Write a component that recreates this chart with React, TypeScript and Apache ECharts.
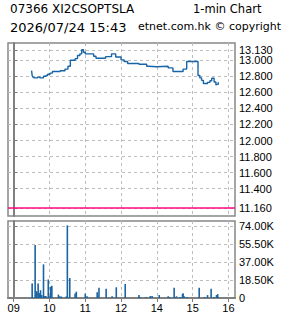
import React, { useEffect, useRef } from "react";
import * as echarts from "echarts";

const titleCode = "07366 XI2CSOPTSLA";
const titleKind = "1-min Chart";
const titleTime = "2026/07/24 15:43";
const titleSource = "etnet.com.hk © copyright";

const hourTicks = [0, 60, 120, 180, 240, 300, 360];
const hourLabels = ["09", "10", "11", "12", "14", "15", "16"];
const priceTicks = [11.16, 11.4, 11.6, 11.8, 12.0, 12.2, 12.4, 12.6, 12.8, 13.0];
const priceHighTick = [13.13];
const volumeTicks = [0, 18500, 37000, 55500, 74000];
const baseLine = 11.16;

const priceTimes = [
  "09:30", "09:31", "09:32", "09:34", "09:40", "09:44", "09:50", "09:54", "09:57", "10:01",
  "10:05", "10:18", "10:26", "10:31", "10:35", "10:43", "10:47", "10:51", "10:54", "10:57",
  "11:00", "11:14", "11:18", "11:34", "11:44", "11:51", "12:00", "13:05", "13:11", "13:30",
  "13:43", "13:46", "14:00", "14:19", "14:27", "14:44", "14:50", "15:09", "15:12", "15:15",
  "15:18", "15:25", "15:29", "15:32", "15:36", "15:39", "15:40", "15:43",
];
const priceValues = [
  12.87, 12.81, 12.79, 12.78, 12.79, 12.78, 12.8, 12.81, 12.825, 12.84,
  12.86, 12.87, 12.89, 12.925, 13.0, 13.02, 13.06, 13.08, 13.13, 13.1,
  13.08, 13.05, 13.025, 13.045, 13.08, 13.04, 13.005, 12.985, 12.96, 12.95,
  12.925, 12.92, 12.925, 12.905, 12.86, 12.89, 12.985, 12.81, 12.78, 12.75,
  12.71, 12.725, 12.745, 12.775, 12.73, 12.69, 12.7, 12.725,
];

const volumeTimes = [
  "09:31", "09:36", "09:38", "09:39", "09:41", "09:43", "09:45", "09:47", "09:50", "09:52",
  "09:54", "09:58", "09:59", "10:02", "10:04", "10:15", "10:16", "10:18", "10:20", "10:28",
  "10:30", "10:34", "10:43", "10:45", "11:00", "11:03", "11:20", "11:23", "11:35", "11:45",
  "11:52", "13:07", "13:30", "13:32", "13:42", "13:49", "13:52", "14:04", "14:19", "14:21",
  "14:29", "14:32", "14:33", "14:39", "14:43", "14:44", "14:46", "14:51", "15:11", "15:20",
  "15:25", "15:31", "15:36", "15:40", "15:42", "15:43",
];
const volumeValues = [
  15000, 54500, 7000, 6000, 15000, 5000, 8000, 3000, 34500, 2000,
  2000, 19000, 2000, 11500, 12500, 3500, 1500, 1500, 1500, 1500,
  74500, 20500, 4500, 6500, 4500, 1700, 6000, 10500, 9500, 1700,
  11000, 14500, 3000, 1000, 1000, 2000, 2000, 3000, 1700, 1000,
  10500, 1000, 1700, 1000, 4000, 5000, 1700, 1000, 10500, 1000,
  3000, 9500, 1000, 3000, 4000, 1000,
];

// Trading-session minute index: 09:00 -> 0, 12:00 -> 180, 13:00 -> 180 (lunch removed)
function tradingMinute(t: string): number {
  const [h, m] = t.split(":").map(Number);
  const mins = h * 60 + m;
  if (mins <= 12 * 60) return mins - 9 * 60;
  return 180 + mins - 13 * 60;
}

const gridColor = "#bdbdbd";
const axisColor = "#808080";
const lineColor = "#1764a6";
const barColor = "#1a64a3";
const labelFont = "'Liberation Sans', Arial, sans-serif";
const headFont = "'DejaVu Sans', Verdana, sans-serif";

const priceMin = 11.06;
const priceMax = 13.215;
const xMin = -9.5;
const xMax = 371;

export default function App() {
  const ref = useRef<HTMLDivElement>(null);

  useEffect(() => {
    if (!ref.current) return;
    const chart = echarts.init(ref.current, null, { renderer: "svg" });

    const priceData = priceTimes.map((t, i) => [tradingMinute(t), priceValues[i]]);
    const volumeData = volumeTimes.map((t, i) => [tradingMinute(t), volumeValues[i]]);

    const dashed = { show: true, lineStyle: { color: gridColor, type: [3, 3] as any, width: 1 } };
    const rightLabel = (customValues: number[], formatter: (v: number) => string) => ({
      customValues,
      formatter,
      color: "#000",
      fontFamily: labelFont,
      fontSize: 11,
      margin: 4,
      showMinLabel: true,
      showMaxLabel: true,
    });
    const priceFmt = (v: number) => v.toFixed(3);

    const mainRect = { left: 8, top: 43, width: 227, height: 173 };

    chart.setOption({
      animation: false,
      backgroundColor: "#ffffff",
      graphic: [
        { type: "text", left: 10, top: 3, style: { text: titleCode, font: `12px ${headFont}`, fill: "#000" } },
        { type: "text", left: 193, top: 3, style: { text: titleKind, font: `11.5px ${headFont}`, fill: "#000" } },
        { type: "text", left: 10, top: 21, style: { text: titleTime, font: `13px ${headFont}`, fill: "#000" } },
        { type: "text", left: 138, top: 21, style: { text: titleSource, font: `11px ${headFont}`, fill: "#000" } },
      ],
      grid: [
        { ...mainRect, show: true, borderColor: "#888", borderWidth: 1.5 },
        { left: 8, top: 221, width: 227, height: 77, show: true, borderColor: "#888", borderWidth: 1.5 },
        { ...mainRect, show: false },
      ],
      xAxis: [
        {
          gridIndex: 0,
          type: "value",
          min: xMin,
          max: xMax,
          axisLine: { show: false },
          axisTick: { show: false, customValues: hourTicks },
          axisLabel: { show: false, customValues: hourTicks },
          splitLine: dashed,
        },
        {
          gridIndex: 1,
          type: "value",
          min: xMin,
          max: xMax,
          axisLine: { show: true, lineStyle: { color: axisColor, width: 2 } },
          axisTick: { show: true, length: 4, customValues: hourTicks, lineStyle: { color: axisColor } },
          axisLabel: {
            customValues: hourTicks,
            formatter: (v: number) => hourLabels[hourTicks.indexOf(Math.round(v))] ?? "",
            color: "#000",
            fontFamily: labelFont,
            fontSize: 11,
            margin: 4,
            showMinLabel: true,
            showMaxLabel: true,
          },
          splitLine: dashed,
        },
        {
          gridIndex: 2,
          type: "value",
          min: xMin,
          max: xMax,
          show: false,
        },
      ],
      yAxis: [
        {
          gridIndex: 0,
          type: "value",
          position: "right",
          min: priceMin,
          max: priceMax,
          axisLine: { show: true, lineStyle: { color: axisColor, width: 2 } },
          axisTick: { show: true, length: 4, customValues: priceTicks, lineStyle: { color: axisColor } },
          axisLabel: rightLabel(priceTicks, priceFmt),
          splitLine: dashed,
        },
        {
          gridIndex: 1,
          type: "value",
          position: "right",
          min: 0,
          max: 79000,
          axisLine: { show: true, lineStyle: { color: axisColor, width: 2 } },
          axisTick: { show: true, length: 4, customValues: volumeTicks, lineStyle: { color: axisColor } },
          axisLabel: rightLabel(volumeTicks, (v: number) => (v === 0 ? "0" : (v / 1000).toFixed(2) + "K")),
          splitLine: dashed,
        },
        {
          gridIndex: 2,
          type: "value",
          position: "right",
          min: priceMin,
          max: priceMax,
          axisLine: { show: false },
          axisTick: { show: true, length: 4, customValues: priceHighTick, lineStyle: { color: axisColor } },
          axisLabel: rightLabel(priceHighTick, priceFmt),
          splitLine: dashed,
        },
      ],
      series: [
        {
          type: "line",
          xAxisIndex: 0,
          yAxisIndex: 0,
          data: priceData,
          step: "end",
          showSymbol: false,
          lineStyle: { color: lineColor, width: 1.4 },
          markLine: {
            silent: true,
            symbol: "none",
            label: { show: false },
            lineStyle: { color: "#ff0a7f", type: "solid", width: 1.5 },
            data: [{ yAxis: baseLine }],
          },
        },
        {
          type: "bar",
          xAxisIndex: 1,
          yAxisIndex: 1,
          data: volumeData,
          barWidth: 1.6,
          itemStyle: { color: barColor },
        },
      ],
    });

    return () => chart.dispose();
  }, []);

  return (
    <div
      ref={ref}
      style={{ position: "fixed", left: 0, top: 0, width: 285, height: 318, background: "#fff" }}
    />
  );
}
